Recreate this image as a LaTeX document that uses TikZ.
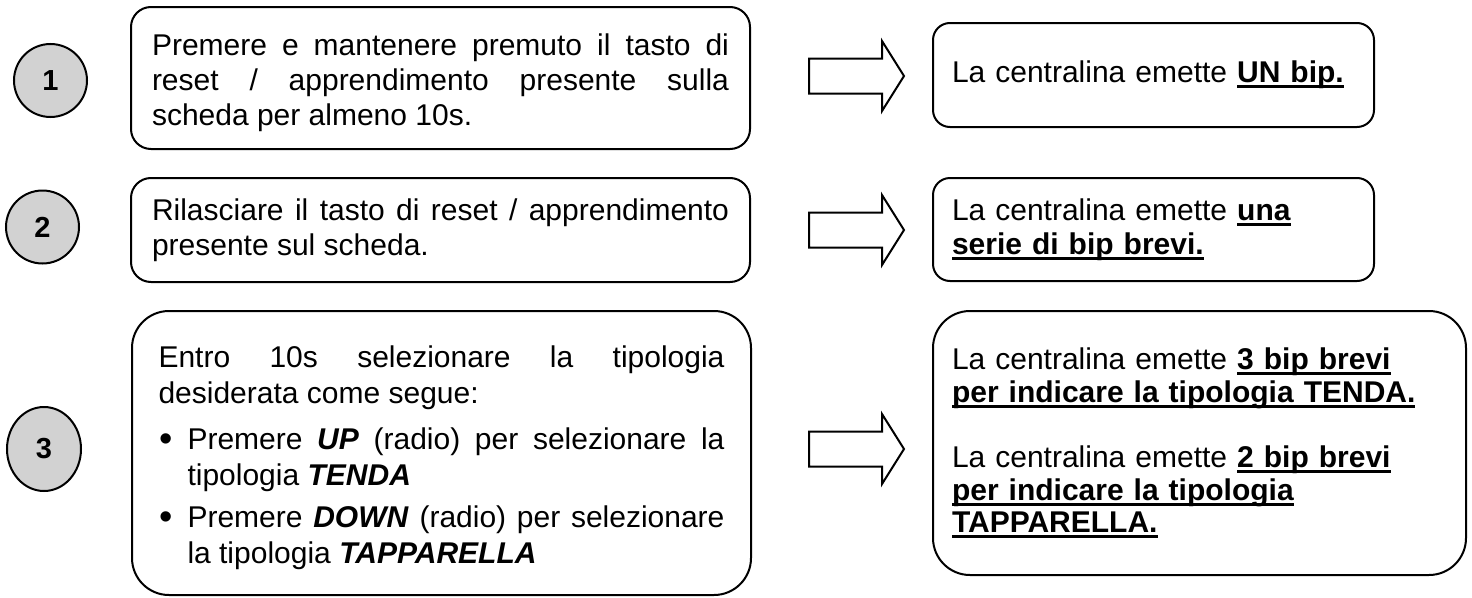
\documentclass[tikz,border=0pt]{standalone}
\usepackage{fontspec}
\setmainfont{Liberation Sans}
\usetikzlibrary{shapes.geometric}

% bold, underlined text
\newsavebox{\ulbox}
\newcommand{\bul}[1]{\leavevmode\sbox{\ulbox}{\bfseries #1}%
  \rlap{\rule[-5.5pt]{\wd\ulbox}{3pt}}\usebox{\ulbox}}
% list bullet
\newcommand{\itembul}{\noindent\hangindent=29pt\hangafter=1%
  \makebox[29pt][l]{\hspace{1pt}\raisebox{-1.5pt}{\fontsize{38}{0}\selectfont\textbullet}}}

\begin{document}
\begin{tikzpicture}[x=1pt, y=-1pt, line width=2pt,
  num/.style={ellipse, draw, fill=gray!35, inner sep=0pt,
    minimum width=73pt, minimum height=73pt,
    font=\fontsize{29}{29}\selectfont\bfseries},
  stepbox/.style={draw, rounded corners=20pt, align=justify,
    inner ysep=0pt, minimum width=619pt,
    font=\fontsize{30}{35}\selectfont},
  resbox/.style={draw, rounded corners=17pt, align=left,
    inner xsep=19pt, inner ysep=0pt, text width=403pt,
    font=\fontsize{30}{34}\selectfont},
  blockarrow/.style={draw, line width=2pt, line join=miter}]
\useasboundingbox (0,0) rectangle (1472,597);

% numbers
\node[num] (n1) at (50.5,80.5) {1};
\node[num] (n2) at (42.5,227) {2};
\node[num, minimum width=74pt, minimum height=84pt] (n3) at (44,449) {3};

% steps
\node[stepbox, text width=577pt, minimum height=142pt] (s1) at (440.5,78)
  {\rule{0pt}{31pt}Premere e mantenere premuto il tasto di\linebreak
   reset / apprendimento presente sulla\linebreak
   scheda per almeno 10s.};
\node[stepbox, text width=577pt, minimum height=104pt] (s2) at (440.5,230)
  {Rilasciare il tasto di reset / apprendimento\linebreak
   presente sul scheda.};
\node[stepbox, text width=566pt, minimum height=284pt, rounded corners=37pt,
  font=\fontsize{30}{36}\selectfont] (s3) at (441.5,453)
  {\rule{0pt}{32pt}Entro 10s selezionare la tipologia\linebreak desiderata come segue:\par
   \vspace{10pt}\itembul Premere \textbf{\textit{UP}} (radio) per selezionare la\linebreak
   tipologia \textbf{\textit{TENDA}}\par
   \vspace{6pt}\itembul Premere \textbf{\textit{DOWN}} (radio) per selezionare\linebreak
   la tipologia \textbf{\textit{TAPPARELLA}}\par};

% results
\node[resbox, minimum height=104pt] (r1) at (1153.5,75)
  {La centralina emette \bul{UN bip.}};
\node[resbox, minimum height=103pt] (r2) at (1153.5,229.5)
  {La centralina emette \bul{una}\\
   \bul{serie di bip brevi.}};
\node[resbox, text width=495pt, minimum height=264pt, rounded corners=37pt,
  font=\fontsize{30}{32.5}\selectfont] (r3) at (1199.5,443)
  {La centralina emette \bul{3 bip brevi}\\
   \bul{per indicare la tipologia TENDA.}\\[33pt]
   La centralina emette \bul{2 bip brevi}\\
   \bul{per indicare la tipologia}\\
   \bul{TAPPARELLA.}};

% arrows
\foreach \y [count=\i] in {76, 230, 449}
{
\coordinate (a\i) at (809,\y);
\draw[blockarrow] (a\i) ++(0,-17.5) -- ++(73,0) -- ++(0,-17.5) -- ++(22,35)
  -- ++(-22,35) -- ++(0,-17.5) -- ++(-73,0) -- cycle;
}
\end{tikzpicture}
\end{document}
